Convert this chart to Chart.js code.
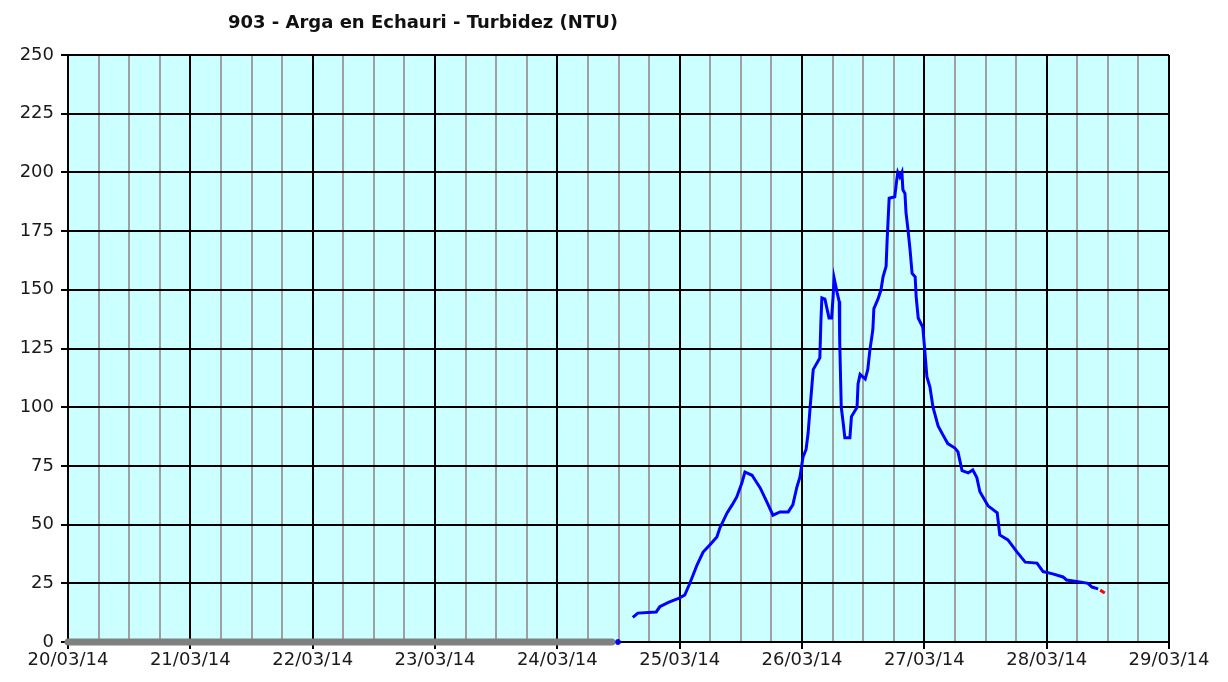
<!DOCTYPE html>
<html>
<head>
<meta charset="utf-8">
<title>903 - Arga en Echauri - Turbidez (NTU)</title>
<script src="https://cdn.jsdelivr.net/npm/chart.js@4/dist/chart.umd.min.js"></script>
<style>
  html, body { margin: 0; padding: 0; background: #fff; }
  #wrap { position: relative; width: 1228px; height: 682px; }
  #title {
    position: absolute; left: 0; top: 11px; width: 846px;
    text-align: center; font: bold 18px "DejaVu Sans", sans-serif;
    line-height: 22px; color: #111;
  }
  canvas { position: absolute; left: 0; top: 0; }
</style>
</head>
<body>
<div id="wrap">
  <canvas id="chart" width="1228" height="682"></canvas>
  <div id="title">903 - Arga en Echauri - Turbidez (NTU)</div>
</div>
<script>
// ── Data (hours since 20/03/14 00:00) ─────────
const startDay  = 20;
const yTicks    = [0, 25, 50, 75, 100, 125, 150, 175, 200, 225, 250];

// no data period, drawn as grey at zero
const gapHours  = [0, 106.7];
const gapValues = [0, 0];

// isolated blue reading at zero
const dotHours  = [107.9];
const dotValues = [0];

// turbidity (NTU), blue series
const ntuHours = [
  110.8, 111.8, 115.4, 116.1, 117.9, 119.9, 121.0, 122.0, 123.4, 124.6,
  125.9, 127.3, 127.9, 129.3, 130.3, 131.2, 132.2, 132.8, 134.2, 134.8,
  135.8, 137.1, 138.3, 139.7, 141.3, 142.2, 143.0, 143.6, 144.2, 144.8,
  145.2, 145.6, 146.2, 147.5, 147.7, 147.9, 148.5, 149.3, 149.8, 150.1,
  150.3, 150.9, 151.3, 151.4, 151.7, 152.1, 152.4, 153.4, 153.7, 154.8,
  155.0, 155.4, 156.4, 156.9, 157.3, 157.9, 158.1, 158.9, 159.5, 159.9,
  160.5, 160.7, 160.9, 161.1, 162.2, 162.6, 162.8, 163.2, 163.6, 163.8,
  164.2, 164.4, 164.8, 165.2, 165.6, 166.2, 166.4, 166.8, 167.7, 168.1,
  168.5, 169.1, 169.7, 170.7, 171.7, 172.6, 174.0, 174.6, 175.4, 176.6,
  177.5, 178.3, 178.9, 180.5, 182.3, 182.8, 184.4, 186.2, 187.8, 190.1,
  191.3, 193.2, 195.2, 195.9, 198.5, 200.1, 200.9, 202.1
];
const ntuValues = [
  10.5, 12.3, 12.8, 15.0, 17.0, 18.7, 20.0, 25.0, 32.8, 38.3,
  41.3, 44.7, 48.6, 55.0, 58.4, 61.8, 67.7, 72.4, 71.0, 69.0,
  65.6, 59.7, 54.0, 55.4, 55.4, 58.4, 66.0, 70.3, 78.8, 82.0,
  89.0, 100.0, 116.0, 121.0, 136.0, 146.5, 146.0, 138.0, 138.0, 147.0,
  155.0, 148.7, 145.0, 128.0, 100.0, 93.0, 87.0, 87.0, 96.0, 100.0,
  110.0, 114.0, 112.0, 116.0, 124.0, 133.0, 142.0, 146.0, 150.0, 155.5,
  160.0, 171.0, 180.0, 189.0, 189.6, 197.0, 200.0, 198.0, 200.0, 192.6,
  191.0, 183.0, 175.5, 167.0, 157.0, 155.5, 147.0, 138.0, 134.0, 124.0,
  113.0, 108.6, 100.0, 92.0, 88.0, 84.5, 82.6, 81.0, 73.0, 72.0,
  73.3, 70.0, 64.0, 58.0, 55.0, 45.6, 43.5, 38.3, 34.0, 33.6,
  30.0, 29.0, 27.7, 26.4, 25.6, 25.0, 23.4, 22.6
];

// latest readings, red
const lastHours  = [202.5, 203.4];
const lastValues = [22.1, 20.9];

// ── Helpers ───────────────────────────────────
function toPoints(xs, ys) {
  return xs.map((x, i) => ({ x: x, y: ys[i] }));
}

function dayLabel(h) {
  const d = startDay + Math.round(h / 24);
  return String(d).padStart(2, "0") + "/03/14";
}

const isDay = v => Math.abs(v % 24) < 0.001;

// cyan plot area
const plotBackground = {
  id: "plotBackground",
  beforeDraw(chart) {
    const a = chart.chartArea, c = chart.ctx;
    c.save();
    c.fillStyle = "#CCFFFF";
    c.fillRect(a.left, a.top, a.right - a.left, a.bottom - a.top);
    c.restore();
  }
};

const tickFont = { family: "'DejaVu Sans'", size: 18 };

new Chart(document.getElementById("chart"), {
  type: "line",
  data: {
    datasets: [
      {
        data: toPoints(gapHours, gapValues),
        borderColor: "#808080",
        borderWidth: 7,
        borderCapStyle: "round",
        pointRadius: 0,
        clip: false,
      },
      {
        data: toPoints(dotHours, dotValues),
        borderColor: "#0000FF",
        backgroundColor: "#0000FF",
        pointRadius: 2.5,
        showLine: false,
        clip: false,
      },
      {
        data: toPoints(ntuHours, ntuValues),
        borderColor: "#0000FF",
        borderWidth: 3,
        pointRadius: 0,
        tension: 0,
      },
      {
        data: toPoints(lastHours, lastValues),
        borderColor: "#FF0000",
        borderWidth: 3,
        pointRadius: 0,
      },
    ],
  },
  options: {
    responsive: false,
    animation: false,
    events: [],
    layout: { padding: { top: 55, right: 59, left: 0, bottom: 0 } },
    plugins: {
      legend: { display: false },
      tooltip: { enabled: false },
      title: { display: false },
    },
    scales: {
      x: {
        type: "linear",
        min: 0,
        max: 216,
        afterFit: s => { s.height = 40; },
        afterBuildTicks: s => {
          s.ticks = [];
          for (let h = 0; h <= 216; h += 6) s.ticks.push({ value: h });
        },
        ticks: {
          autoSkip: false,
          maxRotation: 0,
          color: "#1a1a1a",
          font: tickFont,
          padding: 1,
          callback: v => isDay(v) ? dayLabel(v) : "",
        },
        grid: {
          color: c => isDay(c.tick.value) ? "#000000" : "#A0A0A0",
          tickColor: c => isDay(c.tick.value) ? "#000000" : "rgba(0,0,0,0)",
          lineWidth: 2,
          tickLength: 7,
        },
        border: { color: "#000000", width: 2 },
      },
      y: {
        min: 0,
        max: 250,
        afterFit: s => { s.width = 68; },
        afterBuildTicks: s => { s.ticks = yTicks.map(v => ({ value: v })); },
        ticks: {
          color: "#1a1a1a",
          font: tickFont,
          padding: 7,
        },
        grid: {
          color: "#000000",
          lineWidth: 2,
          tickLength: 7,
        },
        border: { color: "#000000", width: 2 },
      },
    },
  },
  plugins: [plotBackground],
});
</script>
</body>
</html>
